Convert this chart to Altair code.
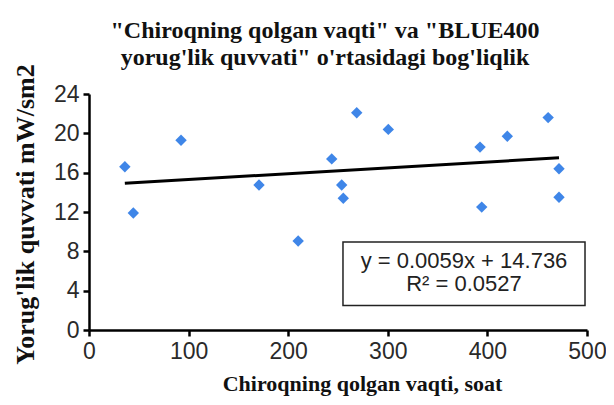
import altair as alt
import pandas as pd

# Data
hours = [36, 44.5, 92.4, 170.7, 210, 243.7, 253.7, 255.3, 268.8, 300.5,
         392.6, 394.3, 420, 461, 471.9, 471.9]
power = [16.6, 11.9, 19.3, 14.75, 9.05, 17.4, 14.75, 13.4, 22.1, 20.4,
         18.6, 12.5, 19.7, 21.6, 16.4, 13.5]

eq_lines = ["y = 0.0059x + 14.736", "R² = 0.0527"]
eq_text_y = [7.0, 4.65]
eq_text_x = [376.5, 376.5]
box_x = [255, 498]
box_y = [2.5, 8.95]
x_ticks = [0, 100, 200, 300, 400, 500]
y_ticks = [0, 4, 8, 12, 16, 20, 24]

df = pd.DataFrame({"x": hours, "y": power})
eq_df = pd.DataFrame({"t": eq_lines, "y": eq_text_y, "x": eq_text_x})
box_df = pd.DataFrame({"x": [box_x[0]], "x2": [box_x[1]], "y": [box_y[0]], "y2": [box_y[1]]})

xscale = alt.Scale(domain=[0, 500], nice=False, zero=True)
yscale = alt.Scale(domain=[0, 24], nice=False)

common = dict(grid=False, domainColor="black", domainWidth=2.5, tickColor="black",
              tickWidth=2.5, tickSize=6, labelFont="Liberation Sans", labelFontSize=23,
              labelColor="#2a2a2a", labelPadding=4, labelOverlap=False, labelFlush=False,
              titleFont="Liberation Serif", titleFontWeight="bold", titleColor="#111",
              titleBaseline="middle", titleAlign="center")

xaxis = alt.Axis(values=x_ticks, title="Chiroqning qolgan vaqti, soat",
                 titleFontSize=22, titleX=273, titleY=53, **common)
yaxis = alt.Axis(values=y_ticks, title="Yorug'lik quvvati mW/sm2",
                 titleFontSize=26, titleX=-64, titleY=120, titleAngle=270, **common)

X = alt.X("x:Q", scale=xscale, axis=xaxis)
Y = alt.Y("y:Q", scale=yscale, axis=yaxis)

base = alt.Chart(df)

points = base.mark_point(shape="diamond", filled=True, size=130, color="#3f86e8",
                         opacity=1).encode(x=X, y=Y)

trend = base.transform_regression("x", "y").mark_line(
    color="black", strokeWidth=3).encode(x=X, y=Y)

box = alt.Chart(box_df).mark_rect(fill="white", stroke="#222", strokeWidth=1.5).encode(
    x=X, x2="x2:Q", y=Y, y2="y2:Q"
)

eq = alt.Chart(eq_df).mark_text(font="Liberation Sans", fontSize=22, color="#222",
                                align="center", baseline="middle").encode(
    x=X, y=Y, text="t:N"
)

chart = alt.layer(trend, points, box, eq).properties(
    width=498, height=236,
    title=alt.TitleParams(
        text=["\"Chiroqning qolgan vaqti\" va \"BLUE400",
              "yorug'lik quvvati\" o'rtasidagi bog'liqlik"],
        font="Liberation Serif", fontSize=24, fontWeight="bold", color="#111",
        anchor="middle", dx=-13, offset=-6, lineHeight=27),
    autosize="none",
    padding={"left": 81, "top": 86, "right": 19, "bottom": 67},
).configure_view(stroke=None)

chart.save("out.html", embed_options={"renderer": "svg", "actions": False})
